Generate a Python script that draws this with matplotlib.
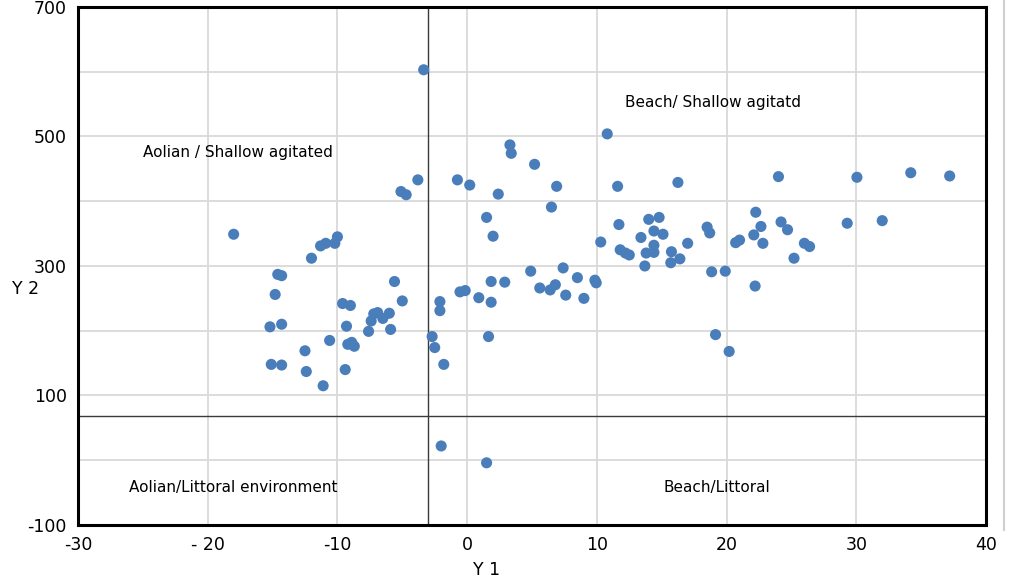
import matplotlib.pyplot as plt
from matplotlib.lines import Line2D

# Y 1 / Y 2 values
y1 = [-18.0, -10.0, -10.2, -10.9, -11.3, -12.0, -14.6, -14.3, -14.8, -15.2,
      -14.3, -15.1, -14.3, -12.5, -12.4, -11.1, -10.6, -9.4, -9.6, -9.0,
      -9.3, -9.2, -8.9, -8.7, -7.6, -7.4, -7.2, -6.9, -6.5, -6.0,
      -5.9, -5.6, -5.0, -5.1, -4.7, -3.8, -3.35,
      -2.7, -2.5, -2.1, -2.1, -1.8, -2.0, 1.5, -0.75, 0.2,
      2.4, 3.3, 3.4, 5.2, 6.9, 6.5, 1.5, 2.0, -0.55, -0.15,
      0.9, 1.85, 1.85, 2.9, 1.65, 4.9, 5.6, 6.4, 6.8, 7.4,
      7.6, 8.5, 9.0, 9.85, 9.95,
      10.8, 11.6, 11.7, 10.3, 11.8, 12.2, 12.5, 13.4, 13.7, 13.8,
      14.0, 14.8, 14.4, 15.1, 14.4, 14.4, 15.75, 15.7, 16.4, 16.25,
      17.0, 18.5, 18.7, 18.85, 19.9, 19.15, 20.2, 20.7, 21.0, 22.2,
      22.25, 22.65, 22.1, 22.8, 24.0, 24.2, 24.7, 25.2, 26.0, 26.4,
      29.3, 30.05, 32.0, 34.2, 37.2]
y2 = [349, 345, 335, 335, 331, 312, 287, 285, 256, 206,
      210, 148, 147, 169, 137, 115, 185, 140, 242, 239,
      207, 179, 182, 176, 199, 215, 226, 228, 219, 227,
      202, 276, 246, 415, 410, 433, 603,
      191, 174, 245, 231, 148, 22, -4, 433, 425,
      411, 487, 474, 457, 423, 391, 375, 346, 260, 262,
      251, 244, 276, 275, 191, 292, 266, 263, 271, 297,
      255, 282, 250, 278, 274,
      504, 423, 364, 337, 325, 320, 317, 344, 300, 320,
      372, 375, 354, 349, 332, 321, 322, 305, 311, 429,
      335, 360, 351, 291, 292, 194, 168, 336, 340, 269,
      383, 361, 348, 335, 438, 368, 356, 312, 335, 330,
      366, 437, 370, 444, 439]

x_ticks = [-30, -20, -10, 0, 10, 20, 30, 40]
x_tick_labels = ['-30', '- 20', '-10', '0', '10', '20', '30', '40']
y_ticks = [-100, 100, 300, 500, 700]

# quadrant dividers
divider_x = -3
divider_y = 68

zones = [
    (-25.0, 476, 'Aolian / Shallow agitated'),
    (12.2, 553, 'Beach/ Shallow agitatd'),
    (-26.1, -42, 'Aolian/Littoral environment'),
    (15.1, -42, 'Beach/Littoral'),
]

fig = plt.figure(figsize=(10.09, 5.82), dpi=100)
ax = fig.add_axes([0.0773, 0.098, 0.8999, 0.89])

ax.set_xlim(-30, 40)
ax.set_ylim(-100, 700)
ax.set_xticks(x_ticks)
ax.set_yticks(range(-100, 701, 100))
ax.grid(True, color='#d9d9d9', linewidth=1.3, zorder=0)
ax.set_axisbelow(True)

ax.axvline(divider_x, color='#3a3a3a', linewidth=1, zorder=1)
ax.axhline(divider_y, color='#3a3a3a', linewidth=1, zorder=1)

ax.scatter(y1, y2, s=64, color='#4a7ebb', edgecolors='none', zorder=3)

for x, y, label in zones:
    ax.text(x, y, label, fontsize=11, va='center', ha='left', color='black')

# only every other gridline carries a y label
ax.set_yticklabels([str(v) if v in y_ticks else '' for v in range(-100, 701, 100)])
ax.set_xticklabels(x_tick_labels)
ax.tick_params(axis='both', length=0, labelsize=12.5, pad=8)

for side in ['left', 'bottom', 'top', 'right']:
    ax.spines[side].set_linewidth(2.2)
    ax.spines[side].set_color('black')

ax.set_xlabel('Y 1', fontsize=12.5, labelpad=0, va='top')
ax.set_ylabel('Y 2', fontsize=12.5, rotation=0, labelpad=0, va='center', ha='center')
ax.yaxis.set_label_coords(-0.058, 0.455)
ax.xaxis.set_label_coords(0.45, -0.07)

# faint outer frame edge on the right
fig.add_artist(Line2D([0.995, 0.995], [0.09, 1.0], transform=fig.transFigure,
                      color='#d0d0d0', linewidth=1.5))

plt.savefig('out.png', dpi=100)
